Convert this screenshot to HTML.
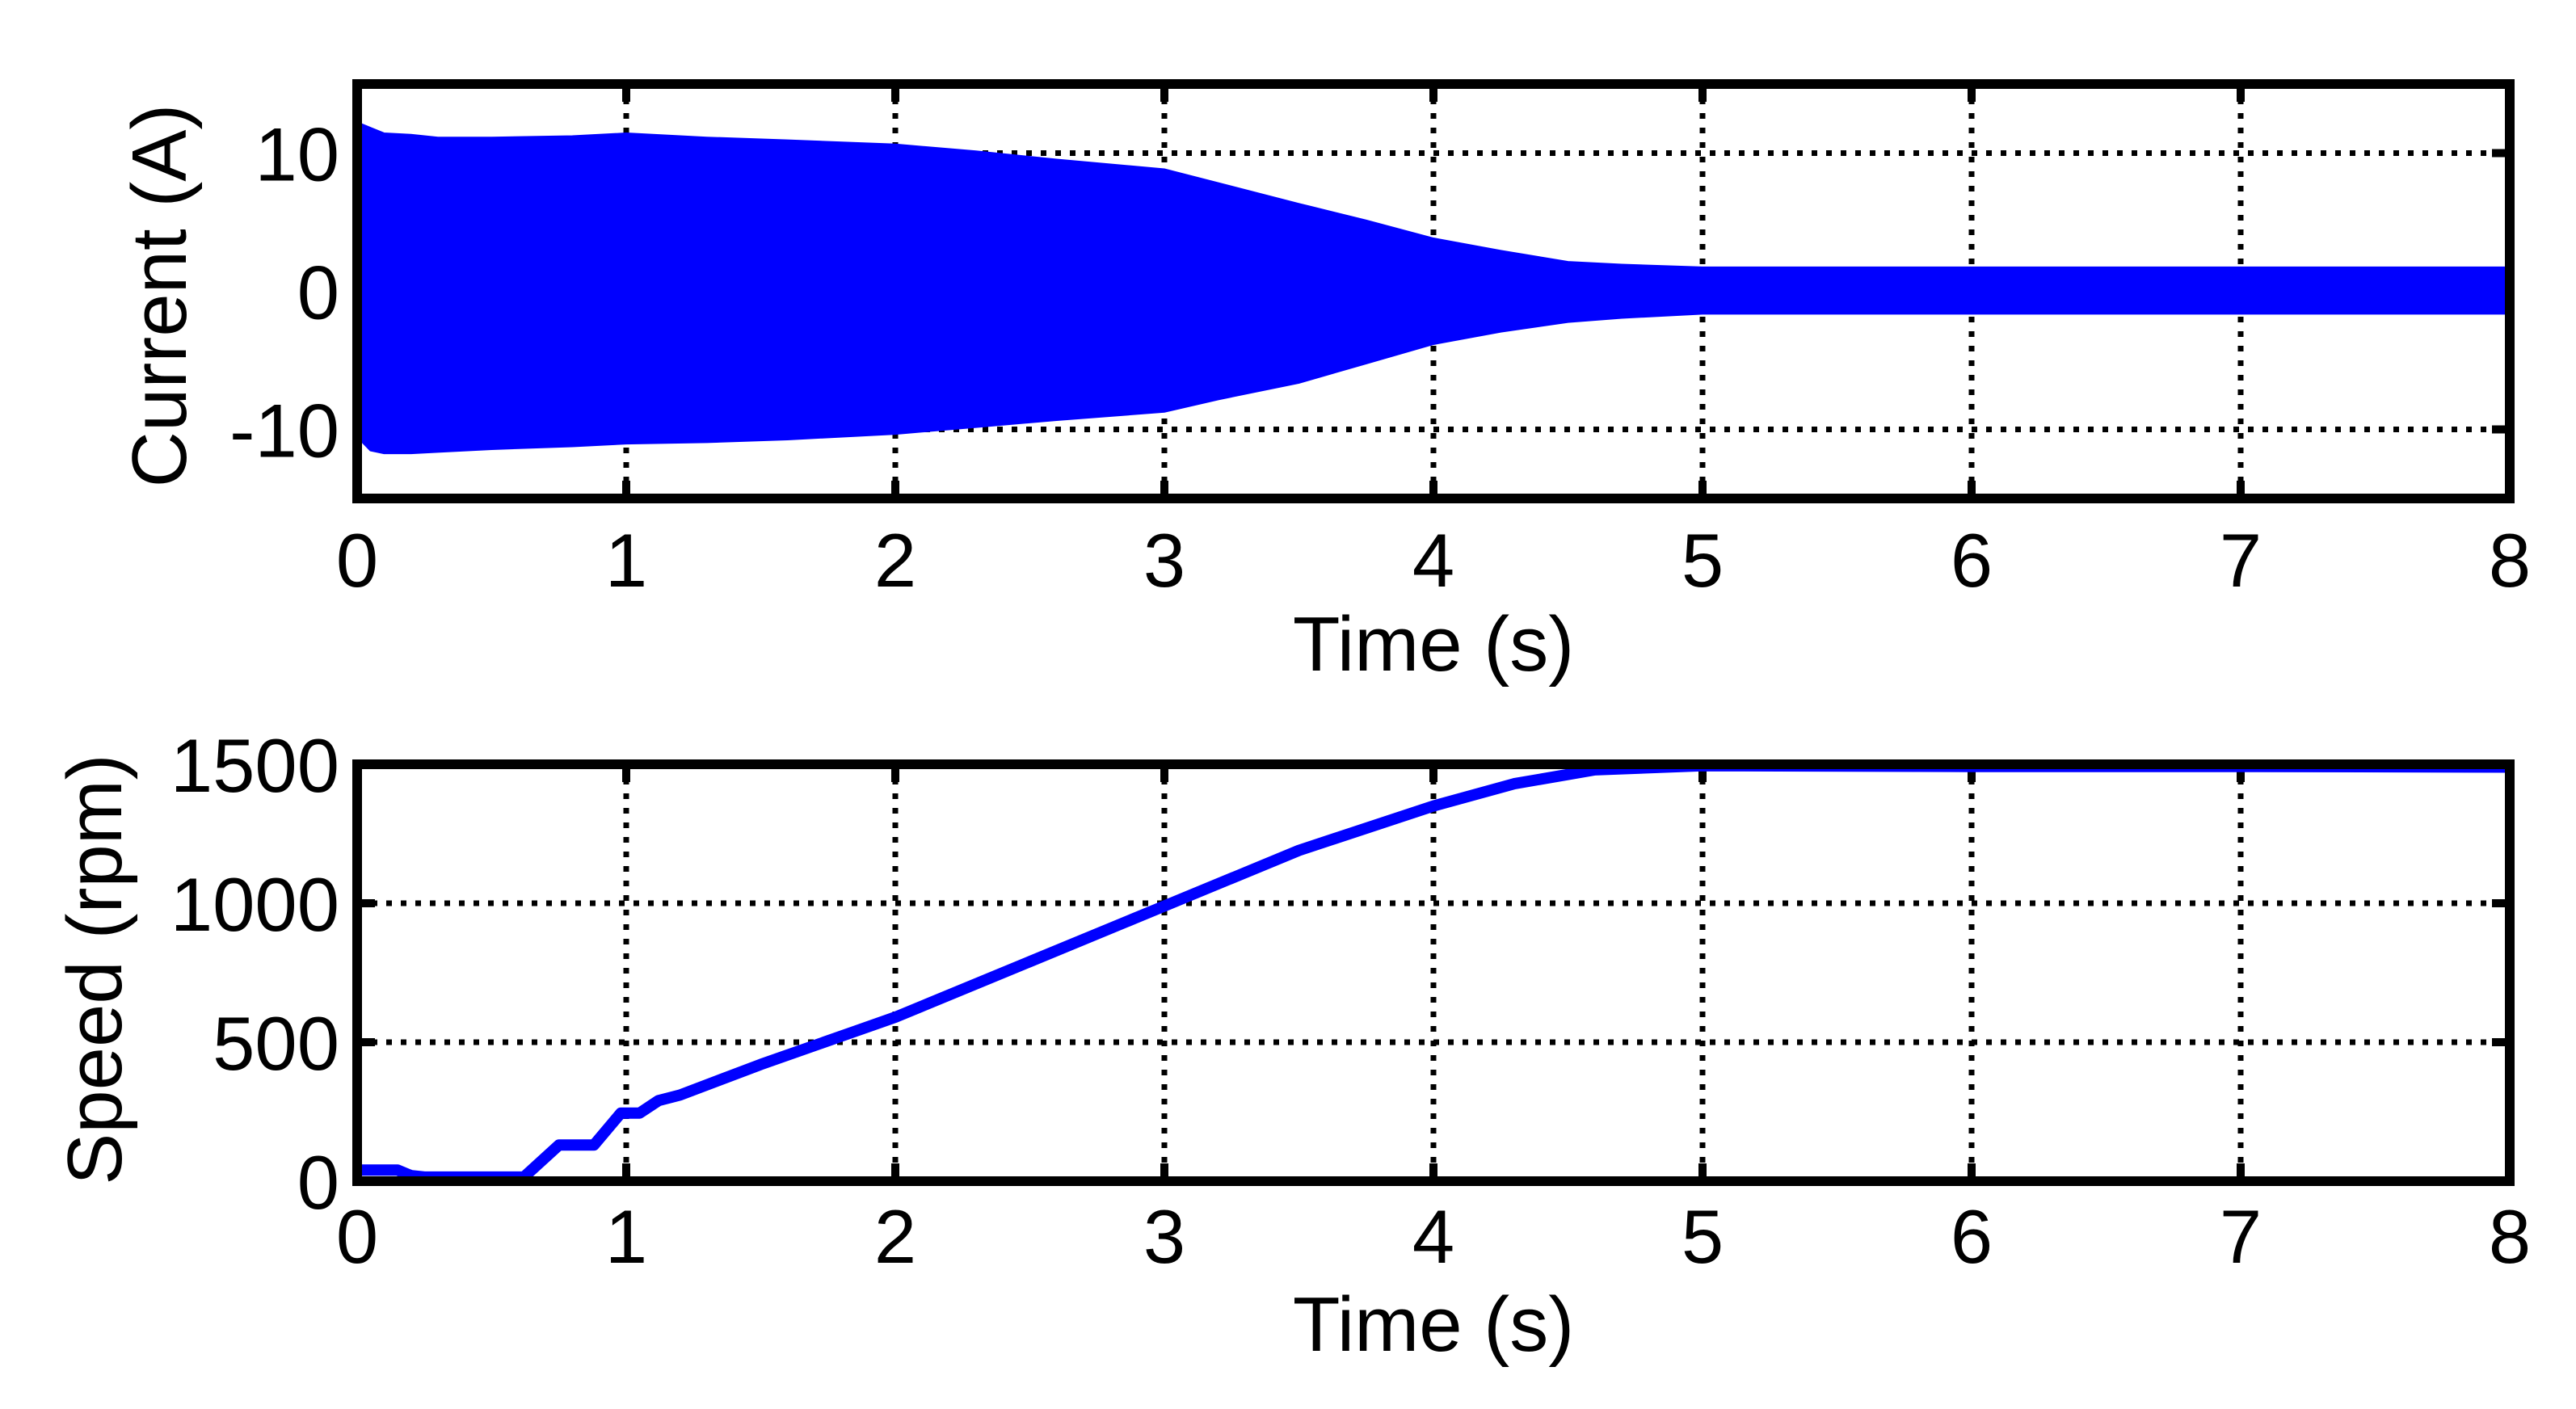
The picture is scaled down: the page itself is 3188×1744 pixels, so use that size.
<!DOCTYPE html>
<html><head><meta charset="utf-8"><style>
html,body{margin:0;padding:0;background:#fff}
svg{display:block}
text{font-family:"Liberation Sans",Arial,sans-serif;fill:#000}
</style></head><body>
<svg id="fig" width="3188" height="1744" viewBox="0 0 3188 1744" xmlns="http://www.w3.org/2000/svg">
<g id="top"></g>
<g id="bot"></g>
</svg>
<script>
// Current envelope data
const curT = [0,0.05,0.1,0.2,0.3,0.5,0.8,1,1.3,1.6,2,2.3,2.6,3,3.2,3.5,3.75,4,4.25,4.5,4.7,5,6,7,8];
const curUpper = [12.2,11.8,11.4,11.3,11.1,11.1,11.2,11.4,11.1,10.9,10.6,10.1,9.5,8.8,7.8,6.3,5.1,3.8,2.9,2.1,1.9,1.7,1.7,1.7,1.7];
const curLower = [-10.5,-11.5,-11.7,-11.7,-11.6,-11.4,-11.2,-11.0,-10.9,-10.7,-10.3,-9.8,-9.3,-8.7,-7.8,-6.6,-5.2,-3.8,-2.9,-2.2,-1.9,-1.6,-1.6,-1.6,-1.6];
// Speed data
const spdT = [0,0.15,0.2,0.25,0.62,0.75,0.88,0.98,1.05,1.12,1.2,1.5,2,2.5,3,3.5,4,4.3,4.6,5,6,7,8];
const spdV = [40,40,20,15,15,130,130,245,245,290,310,420,590,790,990,1190,1350,1430,1480,1495,1492,1492,1490];
const xTicks = [0,1,2,3,4,5,6,7,8];
const curTicks = [-10,0,10];
const spdTicks = [0,500,1000,1500];

const NS="http://www.w3.org/2000/svg";
function mk(p,tag,at){const e=document.createElementNS(NS,tag);for(const k in at)e.setAttribute(k,at[k]);p.appendChild(e);return e;}
const L=442,R=3106;
function xs(t){return L+(R-L)*t/8;}

function frame(g,top,bot,ys,yt,ytitle,tcx,tcy,xlabY,titleY,prefix){
  for(const t of xTicks){ if(t===0||t===8)continue;
    const l=mk(g,'line',{x1:xs(t),x2:xs(t),y1:top,y2:bot,stroke:'#000','stroke-width':7,'stroke-dasharray':'7 11'});
    
    
    mk(g,'line',{x1:xs(t),x2:xs(t),y1:top,y2:top+22,stroke:'#000','stroke-width':10});
    mk(g,'line',{x1:xs(t),x2:xs(t),y1:bot-22,y2:bot,stroke:'#000','stroke-width':10});
  }
  for(const v of yt){ const y=ys(v);
    if(Math.abs(y-top)>5&&Math.abs(y-bot)>5){
      const l=mk(g,'line',{x1:L,x2:R,y1:y,y2:y,stroke:'#000','stroke-width':7,'stroke-dasharray':'7 11'});
      
      
      mk(g,'line',{x1:L,x2:L+22,y1:y,y2:y,stroke:'#000','stroke-width':10});
      mk(g,'line',{x1:R-22,x2:R,y1:y,y2:y,stroke:'#000','stroke-width':10});
    }
    const tx=mk(g,'text',{x:L-22,y:y+34,'text-anchor':'end','font-size':94});
    tx.textContent=v;
    
    
  }
  for(const t of xTicks){
    const tx=mk(g,'text',{x:xs(t),y:xlabY,'text-anchor':'middle','font-size':94});
    tx.textContent=t;
    
    
  }
  const xt=mk(g,'text',{x:xs(4),y:titleY,'text-anchor':'middle','font-size':96});
  xt.textContent='Time (s)';
  
  
  const yttl=mk(g,'text',{x:tcx,y:tcy,'text-anchor':'middle','font-size':96,transform:`rotate(-90 ${tcx} ${tcy})`});
  yttl.textContent=ytitle;
  
  
}
function box(g,top,bot,prefix){
  const r=mk(g,'rect',{x:L,y:top,width:R-L,height:bot-top,fill:'none',stroke:'#000','stroke-width':12});
  
  
}

// Top panel
const gT=document.getElementById('top');
const tTop=104,tBot=617;
const ysT=v=>tBot-(tBot-tTop)*(v+15)/30;
frame(gT,tTop,tBot,ysT,curTicks,'Current (A)',230,366,726,830,'current');
let pts=[];
for(let i=0;i<curT.length;i++)pts.push(xs(curT[i])+','+ysT(curUpper[i]));
for(let i=curT.length-1;i>=0;i--)pts.push(xs(curT[i])+','+ysT(curLower[i]));
const env=mk(gT,'polygon',{points:pts.join(' '),fill:'#0000ff',stroke:'#0000ff','stroke-width':3});


box(gT,tTop,tBot,'current');

// Bottom panel
const gB=document.getElementById('bot');
const bTop=946,bBot=1462;
const ysB=v=>bBot-(bBot-bTop)*v/1500;
frame(gB,bTop,bBot,ysB,spdTicks,'Speed (rpm)',150,1200,1563,1672,'speed');
const sp=mk(gB,'polyline',{points:spdT.map((t,i)=>xs(t)+','+ysB(spdV[i])).join(' '),fill:'none',stroke:'#0000ff','stroke-width':14,'stroke-linejoin':'round'});


box(gB,bTop,bBot,'speed');
</script>
</body></html>
